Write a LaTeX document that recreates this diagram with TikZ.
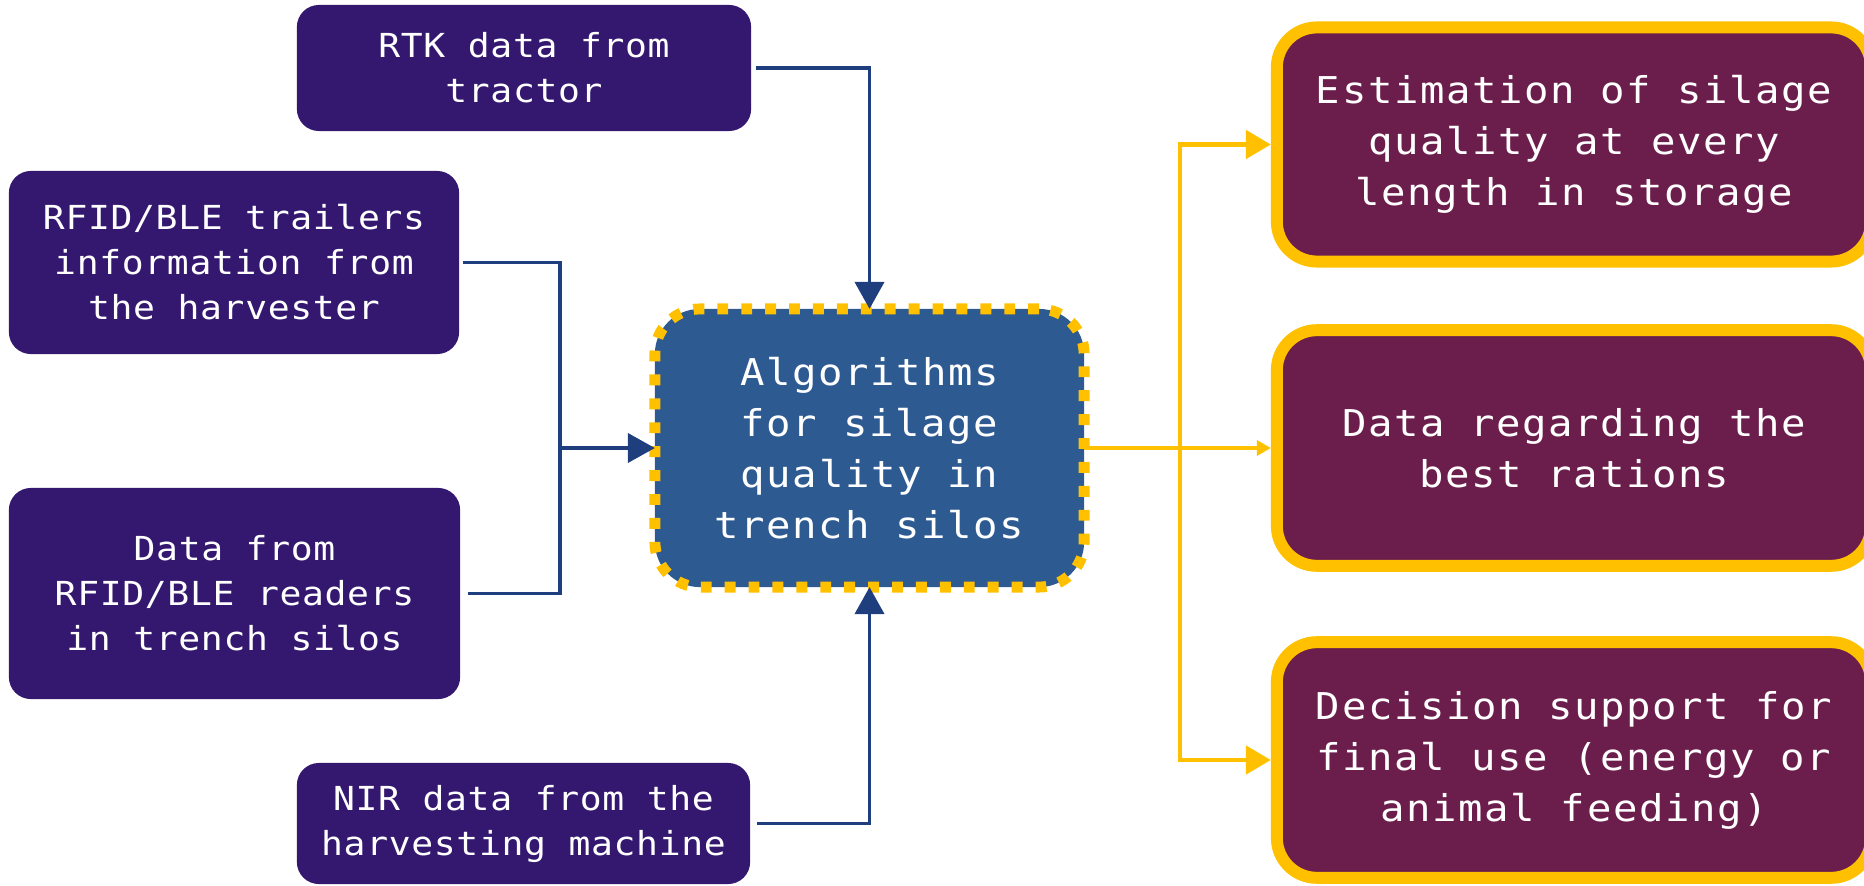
\documentclass[tikz,border=0pt]{standalone}
\usepackage{fontspec}
\newfontfamily\monoL[FakeStretch=1.1,LetterSpace=2]{DejaVu Sans Mono}
\newfontfamily\monoC[FakeStretch=1.1,LetterSpace=4.3]{DejaVu Sans Mono}
\usetikzlibrary{arrows.meta}
\definecolor{inpurple}{HTML}{34186F}
\definecolor{algblue}{HTML}{2E5A92}
\definecolor{outwine}{HTML}{6B1D4B}
\definecolor{gold}{HTML}{FFC000}
\definecolor{linkblue}{HTML}{1F3E7E}
\begin{document}
\begin{tikzpicture}[x=0.01cm,y=-0.01cm,
 inbox/.style={fill=inpurple, rounded corners=0.22cm, text=white, align=center, inner sep=0pt, font=\monoL\fontsize{9.4}{12.8}\selectfont},
 algbox/.style={fill=algblue, draw=gold, line width=3.1pt, dash pattern=on 3.1pt off 3.7pt, rounded corners=0.45cm, text=white, align=center, inner sep=0pt, outer sep=0pt, font=\monoC\fontsize{10.5}{14.5}\selectfont},
 outbox/.style={fill=outwine, draw=gold, line width=3.4pt, rounded corners=0.4cm, text=white, align=center, inner sep=0pt, font=\monoC\fontsize{10.5}{14.5}\selectfont},
 bluelink/.style={draw=linkblue, line width=1.1pt},
 bluearrow/.style={bluelink, -{Triangle[length=0.27cm, width=0.29cm]}},
 goldlink/.style={draw=gold, line width=1.4pt},
 goldbig/.style={goldlink, -{Triangle[length=0.25cm, width=0.28cm]}},
 goldsmall/.style={goldlink, -{Triangle[length=0.14cm, width=0.15cm]}},
]
\useasboundingbox (0,0) rectangle (1864,885);
\clip (0,0) rectangle (1864,885);
\node[inbox, minimum width=4.54cm, minimum height=1.26cm] (rtk) at (524,68) {RTK data from\\tractor};
\node[inbox, minimum width=4.50cm, minimum height=1.83cm] (trl) at (234,262.5) {RFID/BLE trailers\\information from\\the harvester};
\node[inbox, minimum width=4.51cm, minimum height=2.11cm] (rdr) at (234.5,593.5) {Data from\\RFID/BLE readers\\in trench silos};
\node[inbox, minimum width=4.53cm, minimum height=1.21cm] (nir) at (523.5,823.5) {NIR data from the\\harvesting machine};
\node[algbox, minimum width=4.29cm, minimum height=2.78cm] (alg) at (869.5,448) {Algorithms\\for silage\\quality in\\trench silos};
\node[outbox, minimum width=5.94cm, minimum height=2.34cm] (o1) at (1574,144.5) {Estimation of silage\\quality at every\\length in storage};
\node[outbox, minimum width=5.94cm, minimum height=2.355cm] (o2) at (1574,448) {Data regarding the\\best rations};
\node[outbox, minimum width=5.94cm, minimum height=2.355cm] (o3) at (1574,760) {Decision support for\\final use (energy or\\animal feeding)};
\coordinate (jn) at (560,448);
\coordinate (bus) at (1180,448);
\draw[bluearrow] ([xshift=0.04cm]rtk.east) -| (alg.north);
\draw[bluelink] ([xshift=0.03cm]trl.east) -| (jn);
\draw[bluelink] ([xshift=0.07cm]rdr.east) -| (jn);
\draw[bluearrow] (jn) -- (alg.west);
\draw[bluearrow] ([xshift=0.06cm]nir.east) -| (alg.south);
\draw[goldsmall] (alg.east) -- (o2.west);
\draw[goldbig] (bus) |- (o1.west);
\draw[goldbig] (bus) |- (o3.west);
\end{tikzpicture}
\end{document}
